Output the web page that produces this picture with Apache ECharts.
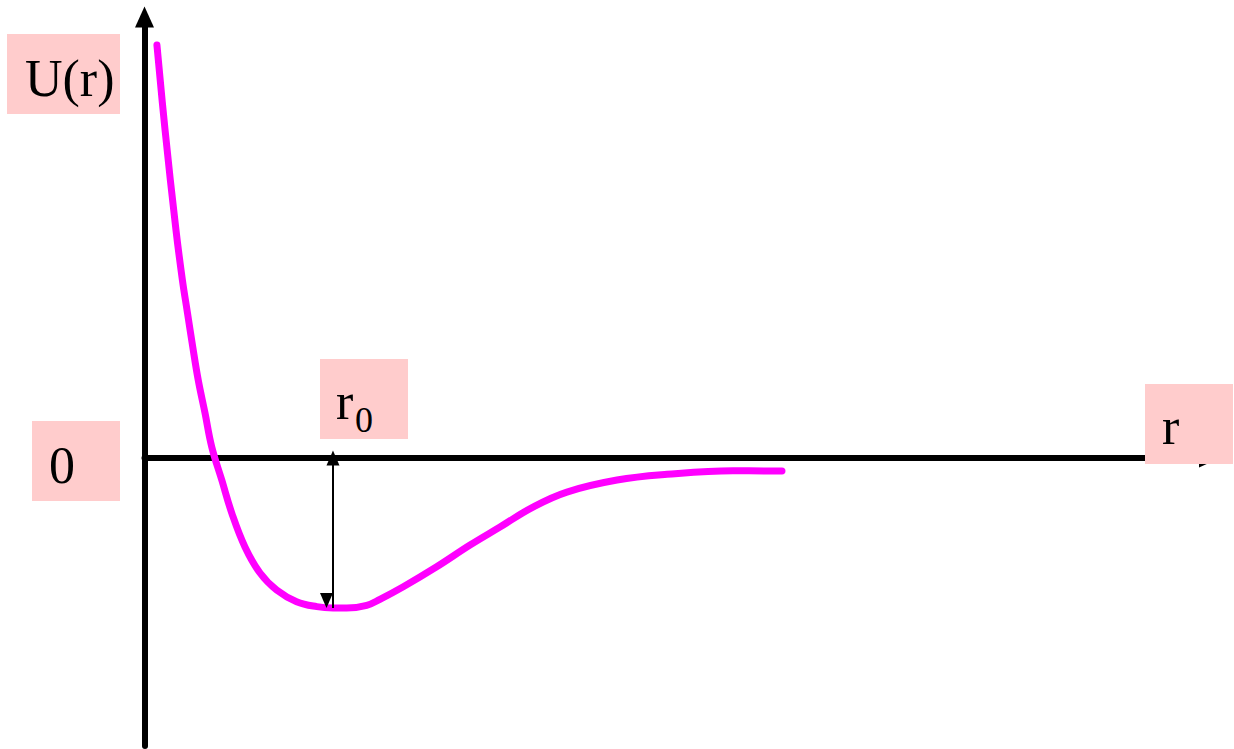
<!DOCTYPE html>
<html>
<head>
<meta charset="utf-8">
<script src="https://cdn.jsdelivr.net/npm/echarts@6/dist/echarts.min.js"></script>
<style>
  html, body { margin: 0; padding: 0; background: #fff; }
  #main { width: 1234px; height: 749px; }
</style>
</head>
<body>
<div id="main"></div>
<script>
// potential curve U(r), r in units of r0, U in units of the well depth
const rValues = [0.066, 0.109, 0.167, 0.201, 0.228, 0.256, 0.285, 0.321, 0.357, 0.41,
  0.463, 0.533, 0.613, 0.701, 0.807, 0.914, 1.0, 1.073, 1.179, 1.249, 1.373, 1.55, 1.727,
  1.886, 2.061, 2.241, 2.507, 2.772, 3.122, 3.382];
const uValues = [2.753, 2.187, 1.52, 1.187, 0.967, 0.74, 0.52, 0.3, 0.073, -0.147,
  -0.367, -0.593, -0.767, -0.88, -0.958, -0.991, -1.0, -1.0, -0.982, -0.942, -0.858, -0.725, -0.58,
  -0.46, -0.327, -0.227, -0.147, -0.109, -0.085, -0.087];
// equilibrium distance and well depth (the double arrow)
const r0 = 1.0;
const wellDepth = [0, -1.0];

const curve = rValues.map((r, i) => [r, uValues[i]]);

const serif = '"Liberation Serif", "Times New Roman", serif';
const boxFill = '#FFCCCC';

function box(x, y, w, h) {
  return { type: 'rect', z: 100, shape: { x: x, y: y, width: w, height: h }, style: { fill: boxFill } };
}
function label(text, x, y, size) {
  return {
    type: 'text', z: 101,
    style: { text: text, x: x, y: y, font: size + 'px ' + serif, fill: '#000', verticalAlign: 'middle' }
  };
}

const chart = echarts.init(document.getElementById('main'), null, { renderer: 'svg' });

chart.setOption({
  animation: false,
  backgroundColor: '#fff',
  grid: { left: 144.5, right: 24.5, top: 17, bottom: 3 },
  xAxis: {
    type: 'value',
    min: 0,
    max: 5.65,
    axisLine: {
      onZero: true,
      symbol: ['none', 'triangle'],
      symbolSize: [19, 21],
      lineStyle: { color: '#000', width: 6 }
    },
    axisTick: { show: false },
    axisLabel: { show: false },
    splitLine: { show: false }
  },
  yAxis: {
    type: 'value',
    min: -1.92,
    max: 2.94,
    axisLine: {
      onZero: false,
      symbol: ['none', 'triangle'],
      symbolSize: [19, 21],
      lineStyle: { color: '#000', width: 6 }
    },
    axisTick: { show: false },
    axisLabel: { show: false },
    splitLine: { show: false }
  },
  series: [
    {
      type: 'line',
      data: curve,
      smooth: 0.4,
      showSymbol: false,
      lineStyle: { color: '#FF00FF', width: 7, cap: 'round', join: 'round' },
      markLine: {
        silent: true,
        symbol: ['triangle', 'triangle'],
        symbolSize: [13, 15],
        symbolOffset: [0, '50%'],
        label: { show: false },
        lineStyle: { color: '#000', width: 2, type: 'solid' },
        data: [[{ coord: [r0, wellDepth[0]] }, { coord: [r0, wellDepth[1]] }]]
      }
    }
  ],
  graphic: [
    box(7, 34, 113, 80), label('U(r)', 25, 78, 52),
    box(32, 421, 88, 80), label('0', 49, 465, 52),
    box(320, 359, 88, 80), label('r', 336, 401, 52), label('0', 355, 420, 36),
    box(1145, 384, 88, 80), label('r', 1162, 426, 52)
  ]
});
</script>
</body>
</html>
